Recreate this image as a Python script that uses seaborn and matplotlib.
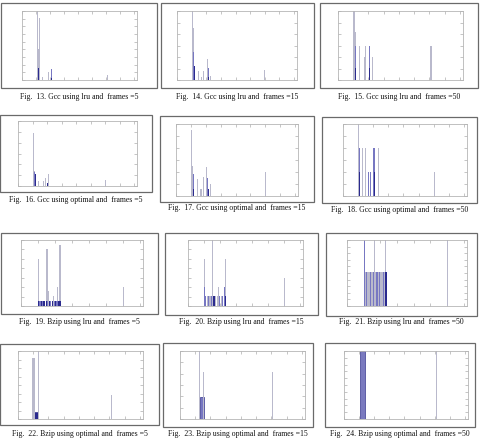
import numpy as np
import matplotlib
matplotlib.use("Agg")
import matplotlib.pyplot as plt
from matplotlib.patches import Rectangle
import seaborn as sns

sns.set_style("white")
plt.rcParams['font.family'] = ['Liberation Serif', 'DejaVu Serif']

# ---------------- data (x = page index axis, h = % of axis height) ----------
captions = [
    "Fig.  13. Gcc using lru and  frames =5",
    "Fig.  14. Gcc using lru and  frames =15",
    "Fig.  15. Gcc using lru and  frames =50",
    "Fig.  16. Gcc using optimal and  frames =5",
    "Fig.  17. Gcc using optimal and  frames =15",
    "Fig.  18. Gcc using optimal and  frames =50",
    "Fig.  19. Bzip using lru and  frames =5",
    "Fig.  20. Bzip using lru and  frames =15",
    "Fig.  21. Bzip using lru and  frames =50",
    "Fig.  22. Bzip using optimal and  frames =5",
    "Fig.  23. Bzip using optimal and  frames =15",
    "Fig.  24. Bzip using optimal and  frames =50",
]
x_max = [80, 80, 80, 80, 80, 80, 70, 70, 70, 80, 80, 80]
y_intervals = [9, 6, 6, 6, 6, 6, 7, 7, 10, 8, 6, 10]

p13_x = [11.1, 12.2, 11.6, 14.5, 19.1, 21.2, 61.0, 11.9, 21.2]
p13_h = [100, 90, 45, 4, 11, 16, 7, 17, 3]
p13_s = ["L", "L", "L", "L", "L", "M", "L", "D", "D"]

p14_x = [10.4, 11.1, 14.4, 16.7, 18.4, 20.7, 22.9, 60.0, 11.6, 21.6, 11.8, 21.3]
p14_h = [100, 76, 13, 4, 13, 30, 6, 14, 40, 18, 20, 5]
p14_s = ["L", "L", "L", "L", "L", "L", "L", "L", "M", "M", "D", "D"]

p15_x = [10.5, 10.8, 11.4, 13.9, 17.2, 18.2, 22.9, 61.0, 11.3, 20.4, 11.4, 20.6]
p15_h = [100, 100, 69, 50, 33, 50, 33, 50, 50, 50, 17, 17]
p15_s = ["L", "L", "L", "L", "L", "L", "L", "L", "M", "M", "D", "D"]

p16_x = [10.8, 11.4, 14.1, 17.9, 19.0, 20.8, 60.5, 11.6, 11.9, 20.6]
p16_h = [82, 23, 7, 7, 12, 18, 10, 22, 18, 4]
p16_s = ["L", "L", "L", "L", "L", "L", "L", "M", "D", "D"]

p17_x = [10.7, 11.3, 14.2, 16.8, 18.5, 20.7, 22.9, 60.4, 11.5, 20.9, 12.0, 21.6]
p17_h = [91, 42, 24, 10, 26, 40, 17, 34, 30, 25, 10, 10]
p17_s = ["L", "L", "L", "L", "L", "L", "L", "L", "M", "M", "D", "D"]

p18_x = [10.4, 13.0, 14.7, 23.4, 60.5, 10.8, 16.9, 18.4, 20.5, 10.9, 20.6]
p18_h = [100, 66, 66, 66, 33, 66, 33, 33, 66, 33, 33]
p18_s = ["L", "L", "L", "L", "L", "M", "M", "M", "M", "D", "D"]

p19_x = [10.1, 15.3, 16.4, 19.3, 21.6, 23.0, 60.4,
         10.4, 11.2, 12.0, 12.8, 13.6, 15.0, 15.8, 16.6, 17.4,
         18.8, 19.6, 20.4, 21.2, 22.0, 22.8, 23.4]
p19_h = [71, 86, 22, 15, 29, 92, 29,
         7, 7, 7, 7, 7, 7, 7, 7, 7,
         7, 7, 7, 7, 7, 7, 7]
p19_s = ["L", "L", "L", "L", "L", "L", "L",
         "D", "M", "D", "M", "D", "D", "M", "D", "M",
         "D", "M", "D", "M", "D", "D", "D"]

p20_x = [10.3, 15.2, 19.3, 23.3, 60.3, 10.6, 23.1,
         11.2, 12.0, 12.8, 13.8, 14.6, 15.6, 16.4, 17.2, 18.2, 19.8, 20.8, 21.8, 22.6,
         15.9, 16.5, 23.4, 23.7]
p20_h = [71, 100, 29, 71, 42, 29, 29,
         15, 15, 15, 15, 15, 15, 15, 15, 15, 15, 15, 15, 15,
         15, 15, 15, 15]
p20_s = ["L", "L", "L", "L", "L", "M", "M",
         "M", "L", "M", "L", "M", "L", "M", "L", "L", "M", "L", "M", "L",
         "D", "D", "D", "D"]

p21_x = [10.3, 16.5, 22.9, 60.3,
         11.0, 11.8, 12.6, 13.4, 14.2, 15.0, 15.8, 17.2, 18.0, 18.8, 19.6, 20.4,
         21.2, 22.0, 22.6, 23.2, 23.6]
p21_h = [100, 100, 100, 100,
         51, 51, 51, 51, 51, 51, 51, 51, 51, 51, 51, 51,
         51, 51, 51, 51, 51]
p21_s = ["M", "L", "L", "L",
         "L", "M", "L", "L", "M", "L", "M", "L", "M", "L", "M", "L",
         "L", "M", "L", "D", "D"]

p22_x = [9.6, 10.2, 10.9, 13.2, 13.4, 61.4]
p22_h = [89, 89, 89, 100, 45, 36]
p22_s = ["L", "L", "L", "L", "L", "L"]

p23_x = [12.8, 15.6, 60.8]
p23_h = [100, 69, 69]
p23_s = ["L", "L", "L"]

p24_x = [61.3]
p24_h = [100]
p24_s = ["L"]

# solid blocks: (start, end, height %, shade)
p22_block = [10.2, 13.2, 11, "D"]
p23_block = [12.8, 15.6, 33, "M"]
p24_block = [10.3, 13.9, 100, "B"]

panel_x = [p13_x, p14_x, p15_x, p16_x, p17_x, p18_x, p19_x, p20_x, p21_x, p22_x, p23_x, p24_x]
panel_h = [p13_h, p14_h, p15_h, p16_h, p17_h, p18_h, p19_h, p20_h, p21_h, p22_h, p23_h, p24_h]
panel_s = [p13_s, p14_s, p15_s, p16_s, p17_s, p18_s, p19_s, p20_s, p21_s, p22_s, p23_s, p24_s]
panel_block = [None] * 9 + [p22_block, p23_block, p24_block]

shade_color = {"L": "#b9b9cc", "M": "#7777c2", "D": "#2a2a8e", "B": "#7a7abf"}

# ---------------- layout (pixels in a 486x439 canvas) -----------------------
W, H = 486, 439
boxes = [(1, 4, 157, 89), (161, 4, 314, 89), (320, 4, 478, 89),
         (0, 116, 152, 193), (160, 117, 314, 203), (322, 118, 477, 204),
         (1, 234, 158, 315), (165, 234, 318, 316), (326, 234, 477, 317),
         (0, 345, 159, 426), (163, 344, 313, 428), (325, 344, 475, 428)]
axes_px = [(22, 12, 137, 81), (177, 12, 297, 81), (338, 12, 463, 81),
           (18, 122, 137, 187), (176, 125, 298, 197), (343, 125, 467, 197),
           (21, 241, 143, 307), (188, 241, 303, 307), (347, 241, 467, 307),
           (18, 352, 143, 420), (180, 352, 305, 420), (344, 352, 468, 420)]
cap_y = [97, 97, 97, 200, 208, 210, 322, 322, 322, 434, 434, 434]

fig = plt.figure(figsize=(W / 100, H / 100), dpi=100)


def draw_bars(ax, xs, hs, color, w):
    xs = np.asarray(xs, dtype=float)
    uniq = np.unique(xs)
    d = np.min(np.diff(uniq)) if len(uniq) > 1 else 1.0
    sns.barplot(x=xs, y=hs, native_scale=True, width=w / d, color=color,
                saturation=1, errorbar=None, linewidth=0, ax=ax)


for i in range(12):
    x0, y0, x1, y1 = boxes[i]
    fig.add_artist(Rectangle((x0 / W, 1 - y1 / H), (x1 - x0) / W, (y1 - y0) / H,
                             transform=fig.transFigure, fill=False,
                             edgecolor="#6a6a6a", linewidth=0.9))
    ax0, ay0, ax1, ay1 = axes_px[i]
    ax = fig.add_axes([ax0 / W, 1 - ay1 / H, (ax1 - ax0) / W, (ay1 - ay0) / H])

    xs = np.asarray(panel_x[i]); hs = np.asarray(panel_h[i]); ss = np.asarray(panel_s[i])
    blk = panel_block[i]
    if blk is not None:
        c = shade_color[blk[3]]
        sns.barplot(x=[(blk[0] + blk[1]) / 2], y=[blk[2]], native_scale=True,
                    width=blk[1] - blk[0], color=c, saturation=1, errorbar=None,
                    linewidth=0.5, edgecolor="#3a3a90", ax=ax)
    for sh in ["L", "M", "D"]:
        m = ss == sh
        if m.any():
            draw_bars(ax, xs[m], hs[m], shade_color[sh], 0.7)

    ax.set_xlim(0, x_max[i] + 2)
    ax.set_ylim(0, 100)
    ax.set_xticks(np.arange(0, x_max[i] + 1, 10))
    ax.set_yticks(np.linspace(0, 100, y_intervals[i] + 1))
    ax.set_xticklabels([])
    ax.set_yticklabels([])
    ax.set_xlabel(""); ax.set_ylabel("")
    ax.tick_params(direction="in", length=2, width=0.4, color="#9a9a9a",
                   top=True, right=True, bottom=True, left=True)
    for sp in ax.spines.values():
        sp.set_color("#b5b5b5")
        sp.set_linewidth(0.6)
        sp.set_visible(True)

    fig.text((x0 + x1) / 2 / W, 1 - cap_y[i] / H, captions[i], ha="center",
             va="center", fontsize=5.6, color="#111111")

fig.savefig("out.png", dpi=100, facecolor="white")
